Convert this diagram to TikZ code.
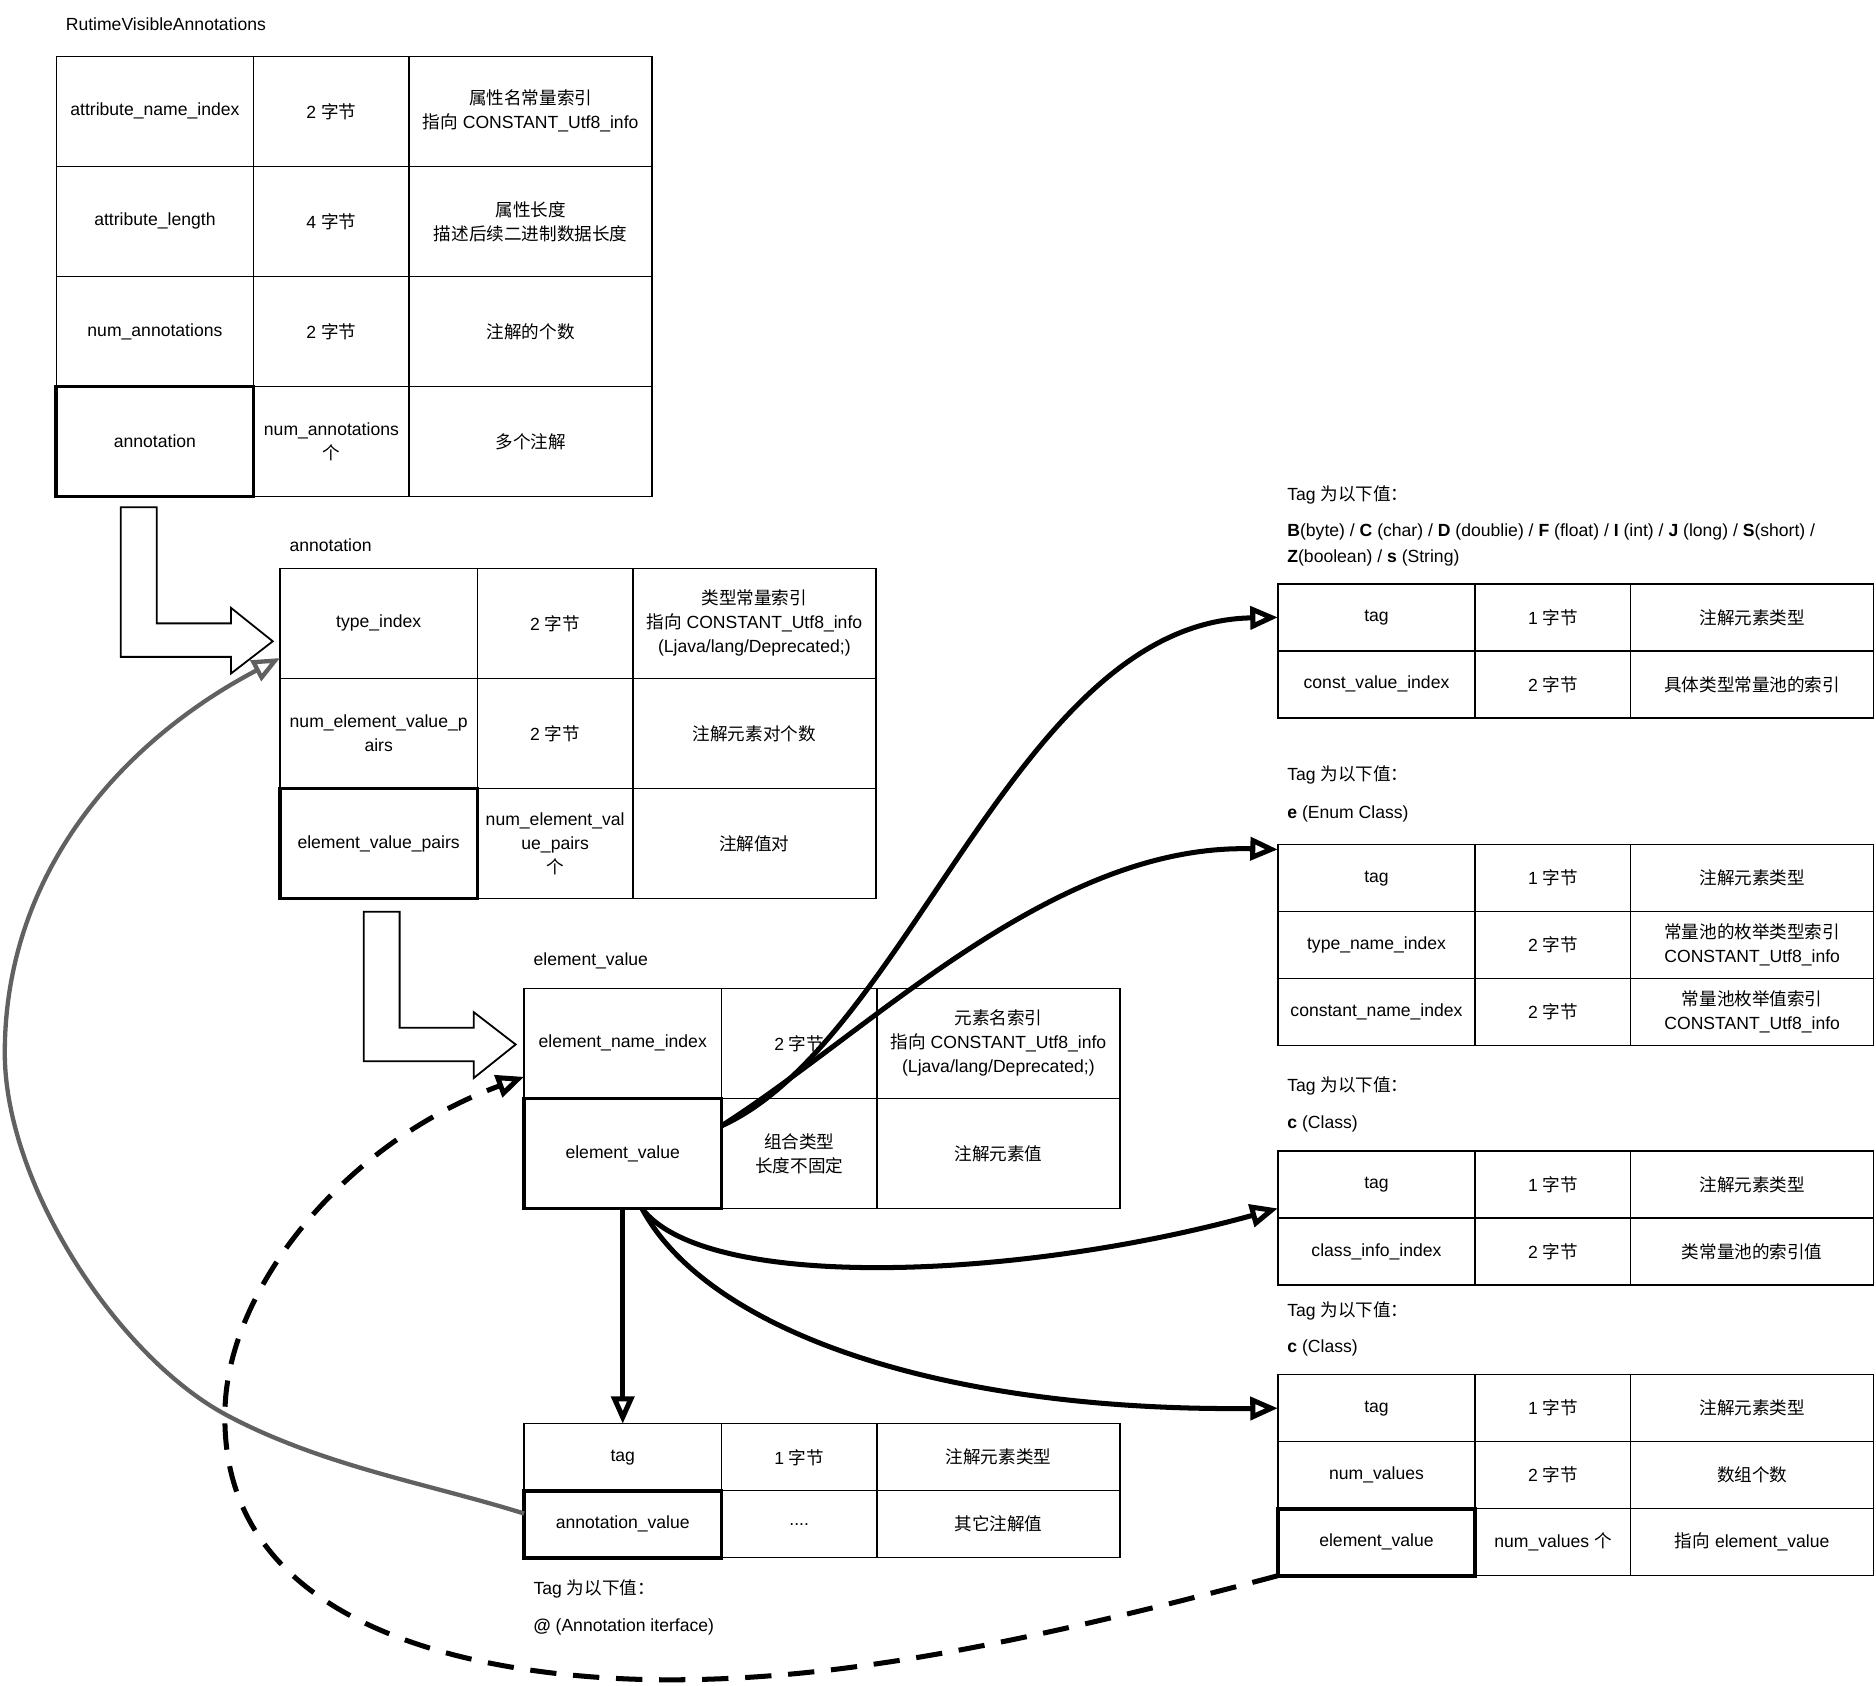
\documentclass[tikz,border=0pt]{standalone}
\usepackage{fontspec}
\setmainfont{Liberation Sans}
\newfontfamily\cjk{Noto Sans CJK SC}
\newcommand\zh[1]{{\cjk #1}}
\usetikzlibrary{arrows.meta}
\tikzset{
  cell/.style={draw, line width=1.2pt, inner sep=0pt, outer sep=0pt, align=center,
    anchor=north west, font=\fontsize{14.7}{20}\selectfont},
  boldcell/.style={line width=3pt},
  lbl/.style={inner sep=0pt, outer sep=0pt, anchor=west, align=left,
    font=\fontsize{14.7}{20}\selectfont},
  conn/.style={line width=4.2pt, -{Triangle[length=23pt,width=19pt,fill=white]}},
  greyconn/.style={conn, line width=3.6pt, draw=black!62},
  dashconn/.style={conn, dash pattern=on 22pt off 14pt},
  blockarrow/.style={draw, fill=white, line width=1.5pt, line join=miter}
}
\newcommand\trow[8]{%
  \node[cell,minimum width=165pt,minimum height=#4pt,#8] (#1a) at (#2,#3) {#5};
  \node[cell,minimum width=130pt,minimum height=#4pt] (#1b) at (#1a.north east) {#6};
  \node[cell,minimum width=203pt,minimum height=#4pt] (#1c) at (#1b.north east) {#7};
}
\begin{document}
\begin{tikzpicture}[x=1pt,y=-1pt]
\useasboundingbox (0,0) rectangle (1568,1409);

% ---------- RutimeVisibleAnnotations ----------
\node[lbl] (t0) at (55,20) {RutimeVisibleAnnotations};
\trow{ra}{47}{47}{92}{attribute\_name\_index}{2 \zh{字节}}{\zh{属性名常量索引}\\\zh{指向} CONSTANT\_Utf8\_info}{}
\trow{rb}{47}{139}{92}{attribute\_length}{4 \zh{字节}}{\zh{属性长度}\\\zh{描述后续二进制数据长度}}{}
\trow{rc}{47}{231}{92}{num\_annotations}{2 \zh{字节}}{\zh{注解的个数}}{}
\trow{rd}{47}{323}{92}{annotation}{num\_annotations\\\zh{个}}{\zh{多个注解}}{boldcell}

% ---------- annotation ----------
\node[lbl] (t1) at (242,456) {annotation};
\trow{aa}{234}{475}{92}{type\_index}{2 \zh{字节}}{\zh{类型常量索引}\\\zh{指向} CONSTANT\_Utf8\_info\\(Ljava/lang/Deprecated;)}{}
\trow{ab}{234}{567}{92}{num\_element\_value\_p\\airs}{2 \zh{字节}}{\zh{注解元素对个数}}{}
\trow{ac}{234}{659}{92}{element\_value\_pairs}{num\_element\_val\\ue\_pairs\\\zh{个}}{\zh{注解值对}}{boldcell}

% ---------- element_value ----------
\node[lbl] (t2) at (446,803) {element\_value};
\trow{ea}{438}{826}{92}{element\_name\_index}{2 \zh{字节}}{\zh{元素名索引}\\\zh{指向} CONSTANT\_Utf8\_info\\(Ljava/lang/Deprecated;)}{}
\trow{eb}{438}{918}{92}{element\_value}{\zh{组合类型}\\\zh{长度不固定}}{\zh{注解元素值}}{boldcell}

% ---------- bottom table ----------
\trow{ba}{438}{1190}{56}{tag}{1 \zh{字节}}{\zh{注解元素类型}}{}
\trow{bb}{438}{1246}{56}{annotation\_value}{....}{\zh{其它注解值}}{boldcell}
\node[lbl] (tE1) at (446,1328) {Tag \zh{为以下值：}};
\node[lbl] (tE2) at (446,1360) {\textbf{@} (Annotation iterface)};

% ---------- right tables ----------
\node[lbl] (tA1) at (1076,414) {Tag \zh{为以下值：}};
\node[lbl] (tA2) at (1076,445) {\textbf{B}(byte) / \textbf{C} (char) / \textbf{D} (doublie) / \textbf{F} (float) / \textbf{I} (int) / \textbf{J} (long) / \textbf{S}(short) /};
\node[lbl] (tA3) at (1076,466) {\textbf{Z}(boolean) / \textbf{s} (String)};
\trow{pa}{1068}{488}{56}{tag}{1 \zh{字节}}{\zh{注解元素类型}}{}
\trow{pb}{1068}{544}{56}{const\_value\_index}{2 \zh{字节}}{\zh{具体类型常量池的索引}}{}

\node[lbl] (tB1) at (1076,648) {Tag \zh{为以下值：}};
\node[lbl] (tB2) at (1076,680) {\textbf{e} (Enum Class)};
\trow{qa}{1068}{706}{56}{tag}{1 \zh{字节}}{\zh{注解元素类型}}{}
\trow{qb}{1068}{762}{56}{type\_name\_index}{2 \zh{字节}}{\zh{常量池的枚举类型索引}\\CONSTANT\_Utf8\_info}{}
\trow{qc}{1068}{818}{56}{constant\_name\_index}{2 \zh{字节}}{\zh{常量池枚举值索引}\\CONSTANT\_Utf8\_info}{}

\node[lbl] (tC1) at (1076,908) {Tag \zh{为以下值：}};
\node[lbl] (tC2) at (1076,939) {\textbf{c} (Class)};
\trow{sa}{1068}{962}{56}{tag}{1 \zh{字节}}{\zh{注解元素类型}}{}
\trow{sb}{1068}{1018}{56}{class\_info\_index}{2 \zh{字节}}{\zh{类常量池的索引值}}{}

\node[lbl] (tD1) at (1076,1096) {Tag \zh{为以下值：}};
\node[lbl] (tD2) at (1076,1127) {\textbf{c} (Class)};
\trow{ua}{1068}{1149}{56}{tag}{1 \zh{字节}}{\zh{注解元素类型}}{}
\trow{ub}{1068}{1205}{56}{num\_values}{2 \zh{字节}}{\zh{数组个数}}{}
\trow{uc}{1068}{1261}{56}{element\_value}{num\_values \zh{个}}{\zh{指向} element\_value}{boldcell}

% ---------- block arrows ----------
\draw[blockarrow] (101,424) -- (131,424) -- (131,521) -- (193,521) -- (193,508) -- (228,536) -- (193,563) -- (193,549) -- (101,549) -- cycle;
\draw[blockarrow] (304,762) -- (334,762) -- (334,859) -- (396,859) -- (396,846) -- (431,873) -- (396,901) -- (396,887) -- (304,887) -- cycle;

% ---------- connectors ----------
\draw[conn] ([yshift=23pt]eba.east) .. controls (760,870) and (850,520) .. (paa.west);
\draw[conn] ([yshift=23pt]eba.east) .. controls (730,860) and (880,705) .. ([yshift=-4pt]qaa.north west);
\draw[conn] ([xshift=16pt]eba.south) .. controls (590,1080) and (850,1070) .. ([yshift=8pt]saa.south west);
\draw[conn] ([xshift=16pt]eba.south) .. controls (590,1110) and (780,1180) .. (uaa.west);
\draw[conn] (eba.south) -- (baa.north);
\draw[greyconn] ([yshift=9pt]bba.west) .. controls (358,1240) and (268,1225) .. (188,1182)
   .. controls (98,1133) and (4,990) .. (4,880)
   .. controls (4,730) and (101,620) .. ([yshift=17pt]aaa.south west);
\draw[dashconn] (uca.south west) .. controls (850,1375) and (700,1404) .. (560,1404)
   .. controls (420,1404) and (185,1370) .. (188,1182)
   .. controls (188,1080) and (286,956) .. ([yshift=18pt]eaa.south west);
\end{tikzpicture}
\end{document}
